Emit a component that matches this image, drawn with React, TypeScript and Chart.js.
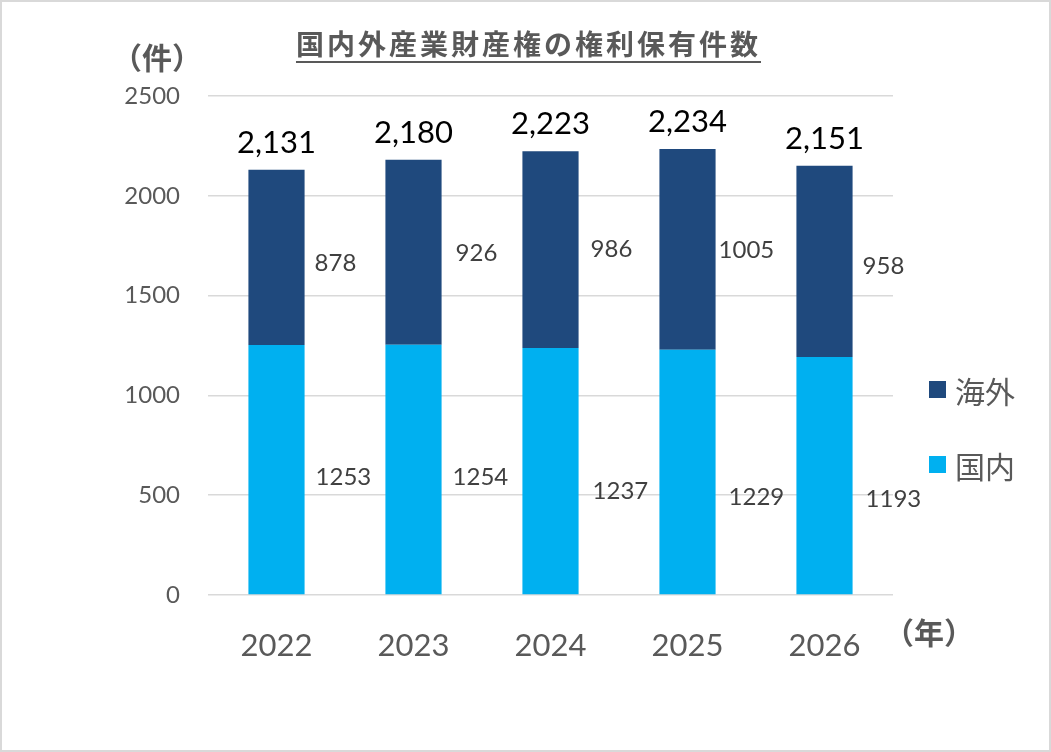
import React, { useEffect, useRef } from "react";
import { Chart, registerables } from "chart.js";

Chart.register(...registerables);

const years = ["2022", "2023", "2024", "2025", "2026"];
const domestic = [1253, 1254, 1237, 1229, 1193];
const overseas = [878, 926, 986, 1005, 958];
const seriesNames = ["国内", "海外"];
const titleText = "国内外産業財産権の権利保有件数";
const yUnit = "（件）";
const xUnit = "（年）";

// label nudges (style only)
const domDx = [11, 11, 14, 13, 13];
const domDy = [8, 8, 20, 25, 24];
const ovDx = [10, 14, 12, 3, 10];
const ovDy = [6, 1, 0, 1, 5];

const COL_DOM = "#00B0F0";
const COL_OV = "#1F497D";
const GRAY = "#595959";
const NUMFONT = "Lato, 'Open Sans', sans-serif";
const JPFONT = "'Noto Sans CJK JP', 'Noto Sans', sans-serif";

const labelPlugin = {
  id: "labelPlugin",
  afterDatasetsDraw(chart: any) {
    const ctx = chart.ctx;
    const m0 = chart.getDatasetMeta(0);
    const m1 = chart.getDatasetMeta(1);
    ctx.save();
    ctx.textBaseline = "middle";
    ctx.textAlign = "left";
    ctx.font = `24px ${NUMFONT}`;
    ctx.fillStyle = "#404040";
    m0.data.forEach((bar: any, i: number) => {
      const { x, y, base, width } = bar.getProps(["x", "y", "base", "width"], true);
      ctx.fillText(String(domestic[i]), x + width / 2 + domDx[i], (y + base) / 2 + domDy[i]);
    });
    m1.data.forEach((bar: any, i: number) => {
      const { x, y, base, width } = bar.getProps(["x", "y", "base", "width"], true);
      ctx.fillText(String(overseas[i]), x + width / 2 + ovDx[i], (y + base) / 2 + ovDy[i]);
    });
    ctx.textAlign = "center";
    ctx.font = `31px ${NUMFONT}`;
    ctx.fillStyle = "#000000";
    m1.data.forEach((bar: any, i: number) => {
      const { x, y } = bar.getProps(["x", "y"], true);
      const total = domestic[i] + overseas[i];
      ctx.fillText(total.toLocaleString("en-US"), x, y - 27);
    });
    ctx.restore();
  },
};

export default function App() {
  const ref = useRef<HTMLCanvasElement>(null);
  useEffect(() => {
    if (!ref.current) return;
    const chart = new Chart(ref.current, {
      type: "bar",
      data: {
        labels: years,
        datasets: [
          { label: seriesNames[0], data: domestic, backgroundColor: COL_DOM, categoryPercentage: 1, barPercentage: 0.41 },
          { label: seriesNames[1], data: overseas, backgroundColor: COL_OV, categoryPercentage: 1, barPercentage: 0.41 },
        ],
      },
      options: {
        animation: false,
        responsive: false,
        layout: { padding: { left: 0, right: 158, top: 96, bottom: 0 } },
        plugins: { legend: { display: false }, title: { display: false }, tooltip: { enabled: false } },
        scales: {
          x: {
            stacked: true,
            grid: { display: false },
            border: { display: false },
            ticks: { font: { family: NUMFONT, size: 31 }, color: GRAY, padding: 24 },
            afterFit: (s: any) => { s.height = 157; },
          },
          y: {
            stacked: true,
            min: 0,
            max: 2500,
            ticks: {
              stepSize: 500,
              font: { family: NUMFONT, size: 24 },
              color: GRAY,
              padding: 28,
              callback: (v: any) => String(v),
            },
            grid: { color: "#D9D9D9", lineWidth: 1.5, drawTicks: false },
            border: { display: false },
            afterFit: (s: any) => { s.width = 208; },
          },
        },
      },
      plugins: [labelPlugin],
    });
    return () => chart.destroy();
  }, []);

  const box: React.CSSProperties = { position: "absolute", whiteSpace: "nowrap", color: GRAY, fontFamily: JPFONT };
  return (
    <div style={{ position: "fixed", left: 0, top: 0, width: 1051, height: 752, background: "#fff" }}>
      <div style={{ position: "absolute", left: 0, top: 0, width: 1051, height: 752, boxSizing: "border-box", border: "2px solid #D9D9D9" }} />
      <canvas ref={ref} width={1051} height={752} style={{ position: "absolute", left: 0, top: 0 }} />
      <div style={{ ...box, left: 0, width: 1051, top: 21, textAlign: "center", fontSize: 28, fontWeight: 700, letterSpacing: 3, lineHeight: "44px", textDecoration: "underline", textUnderlineOffset: 6, paddingLeft: 3 }}>{titleText}</div>
      <div style={{ ...box, left: 112, top: 37, fontSize: 30, fontWeight: 700, lineHeight: "38px" }}>{yUnit}</div>
      <div style={{ ...box, left: 884, top: 612, fontSize: 30, fontWeight: 700, lineHeight: "38px" }}>{xUnit}</div>
      <div style={{ position: "absolute", left: 929, top: 381, width: 17, height: 17, background: COL_OV }} />
      <div style={{ ...box, left: 955, top: 370, fontSize: 30, lineHeight: "40px" }}>{seriesNames[1]}</div>
      <div style={{ position: "absolute", left: 929, top: 456, width: 17, height: 17, background: COL_DOM }} />
      <div style={{ ...box, left: 955, top: 445, fontSize: 30, lineHeight: "40px" }}>{seriesNames[0]}</div>
    </div>
  );
}
